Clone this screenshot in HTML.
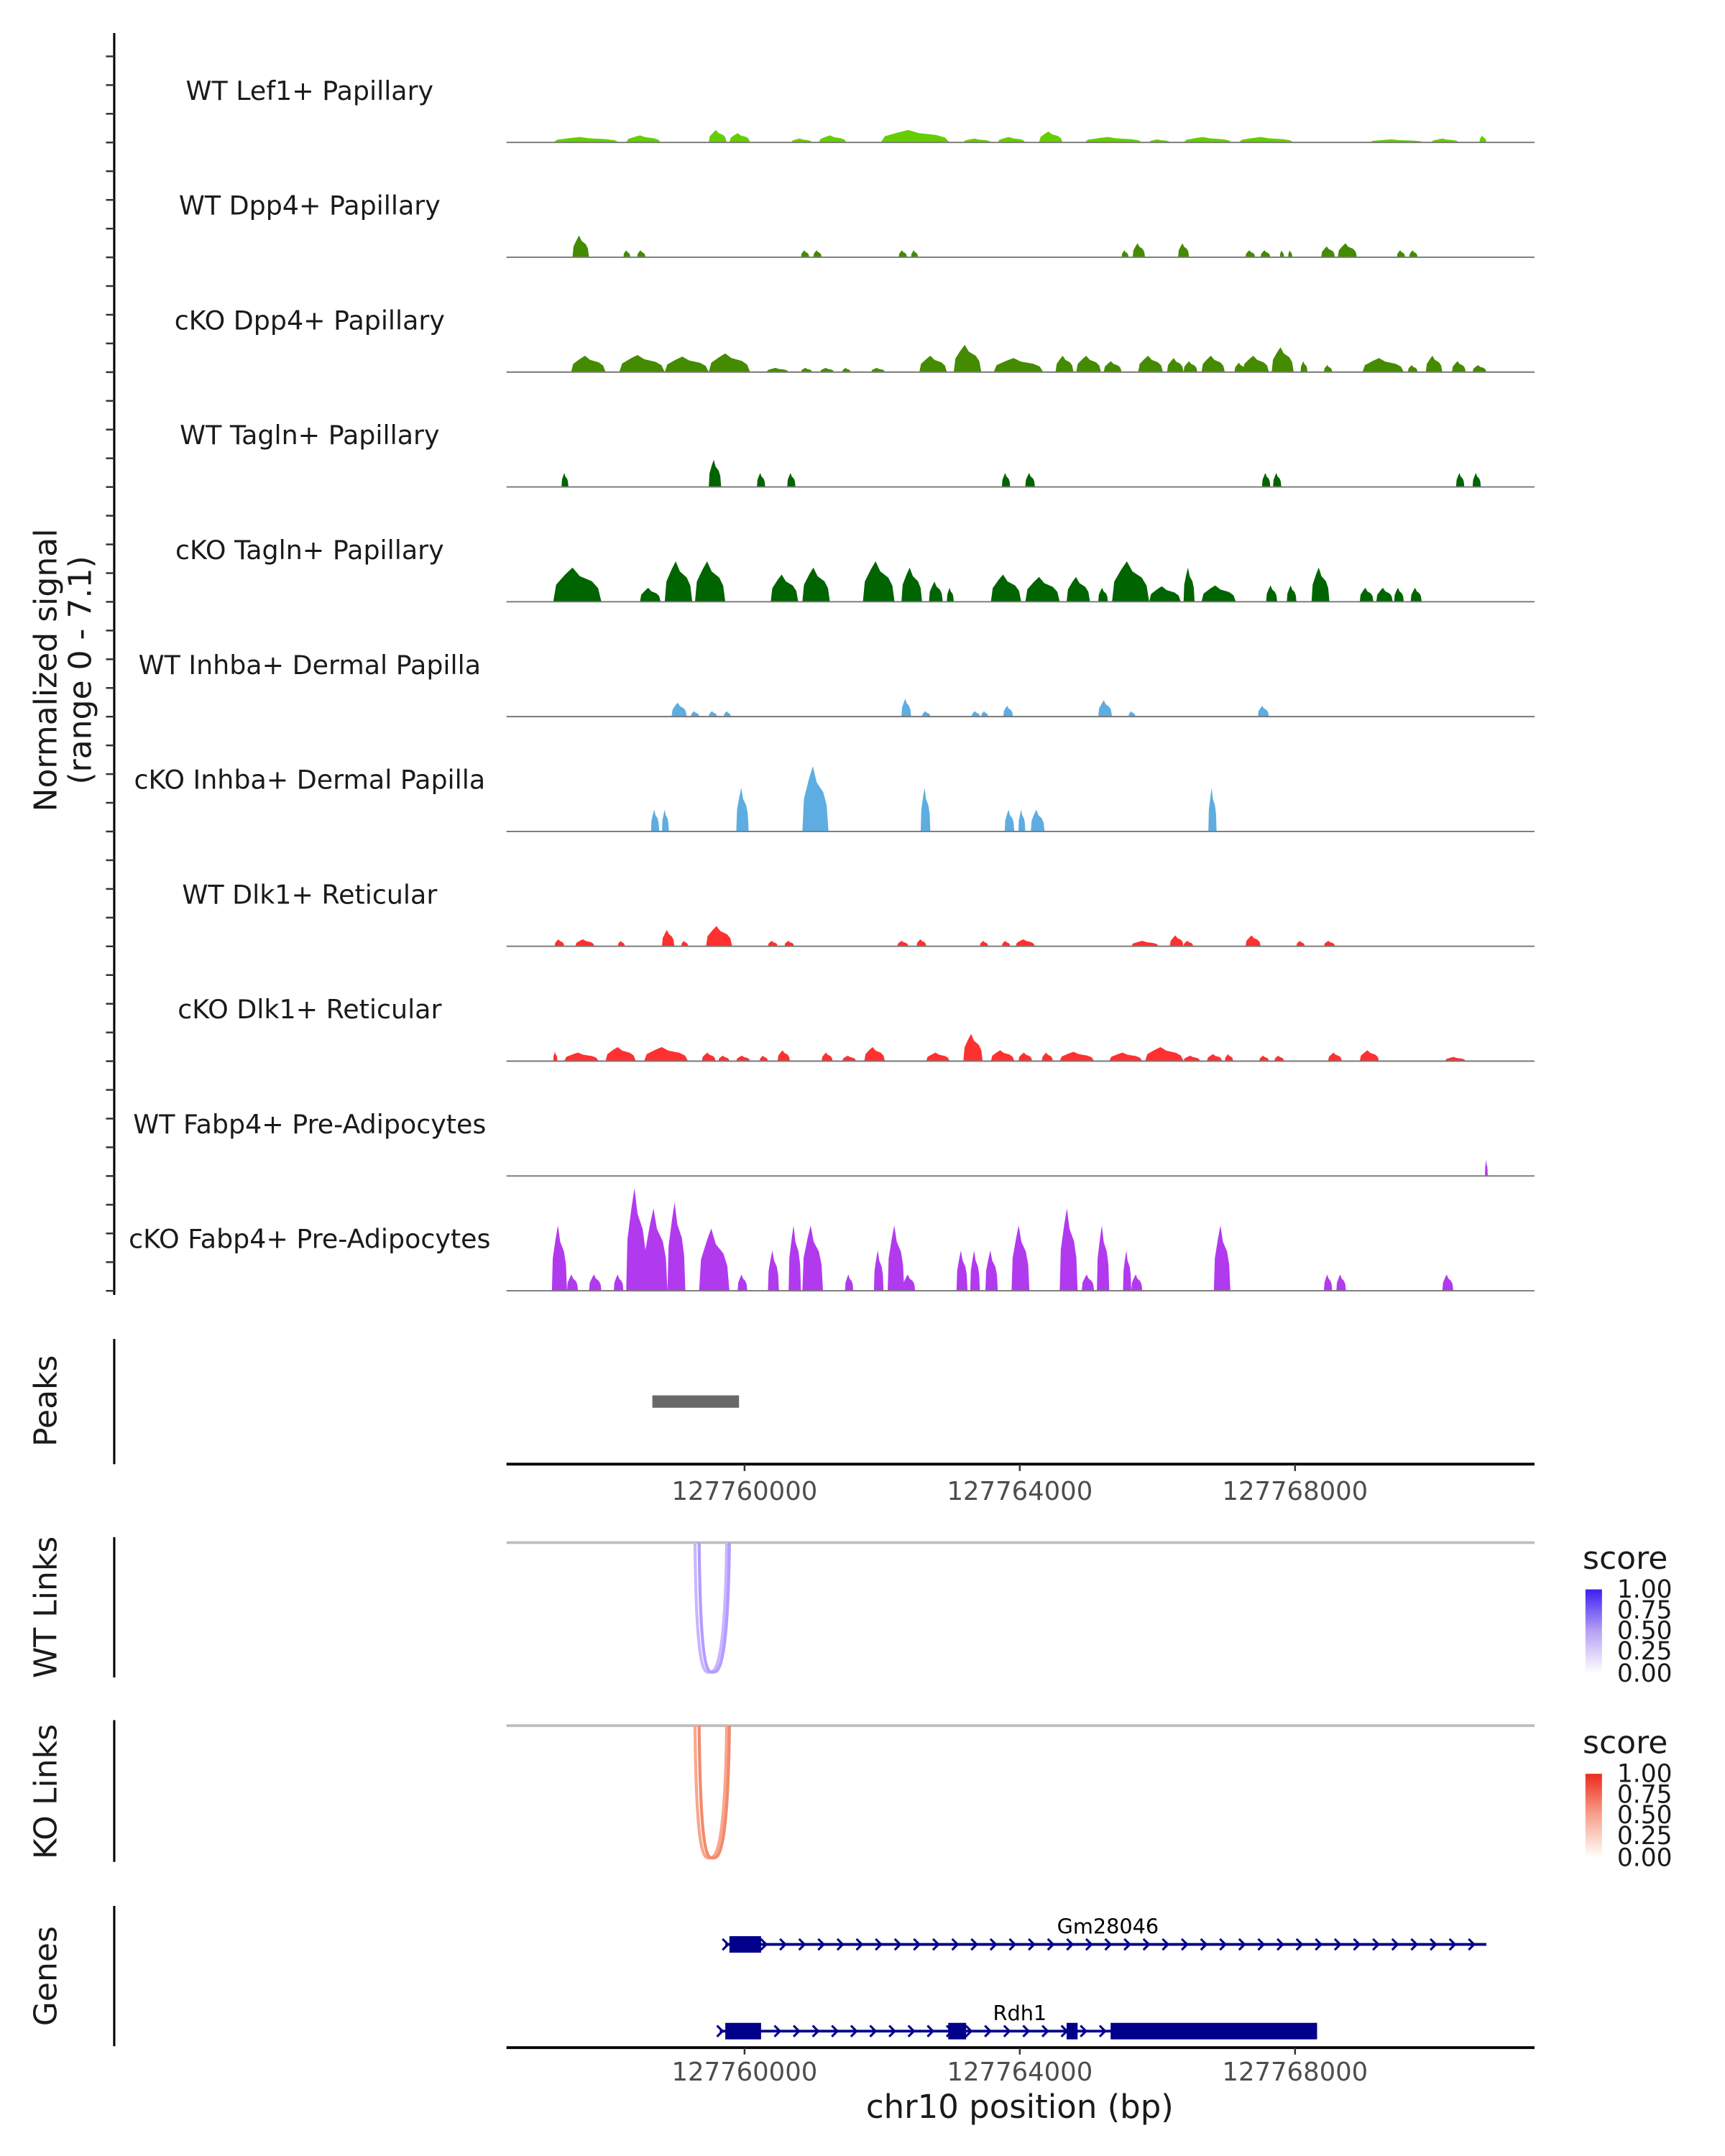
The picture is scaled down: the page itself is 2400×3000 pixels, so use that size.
<!DOCTYPE html>
<html><head><meta charset="utf-8">
<style>
html,body{margin:0;padding:0;background:#fff;}
svg{display:block;font-family:"DejaVu Sans","Liberation Sans",sans-serif;}
</style></head>
<body>
<svg id="chart" width="2400" height="3000" viewBox="0 0 1253.4 1566.75" xmlns="http://www.w3.org/2000/svg">
<g id="static">
  <text transform="translate(41,487) rotate(-90)" text-anchor="middle" font-size="23" fill="#1a1a1a">Normalized signal</text>
  <text transform="translate(66,487) rotate(-90)" text-anchor="middle" font-size="23" fill="#1a1a1a">(range 0 - 7.1)</text>
  <line x1="83" y1="24" x2="83" y2="941" stroke="#000" stroke-width="1.6"/>
  <text transform="translate(41,1018) rotate(-90)" text-anchor="middle" font-size="23" fill="#1a1a1a">Peaks</text>
  <line x1="83" y1="973" x2="83" y2="1064" stroke="#000" stroke-width="1.6"/>
  <line x1="368" y1="1064" x2="1115" y2="1064" stroke="#000" stroke-width="2"/>
  <text transform="translate(41,1168) rotate(-90)" text-anchor="middle" font-size="23" fill="#1a1a1a">WT Links</text>
  <line x1="83" y1="1117" x2="83" y2="1219" stroke="#000" stroke-width="1.6"/>
  <line x1="368" y1="1121" x2="1115" y2="1121" stroke="#bebebe" stroke-width="2"/>
  <text transform="translate(41,1302) rotate(-90)" text-anchor="middle" font-size="23" fill="#1a1a1a">KO Links</text>
  <line x1="83" y1="1250" x2="83" y2="1353" stroke="#000" stroke-width="1.6"/>
  <line x1="368" y1="1254" x2="1115" y2="1254" stroke="#bebebe" stroke-width="2"/>
  <text transform="translate(41,1436) rotate(-90)" text-anchor="middle" font-size="23" fill="#1a1a1a">Genes</text>
  <line x1="83" y1="1385" x2="83" y2="1487" stroke="#000" stroke-width="1.6"/>
  <line x1="368" y1="1488" x2="1115" y2="1488" stroke="#000" stroke-width="2"/>
  <text x="741" y="1539" text-anchor="middle" font-size="23.5" fill="#1a1a1a">chr10 position (bp)</text>
  <defs>
    <linearGradient id="gBlue" x1="0" y1="1" x2="0" y2="0"><stop offset="0" stop-color="#ffffff"/><stop offset="0.5" stop-color="#b7a2f5"/><stop offset="1" stop-color="#3a1ff0"/></linearGradient>
    <linearGradient id="gRed" x1="0" y1="1" x2="0" y2="0"><stop offset="0" stop-color="#ffffff"/><stop offset="0.5" stop-color="#f6a48e"/><stop offset="1" stop-color="#ee2a1c"/></linearGradient>
  </defs>
  <g>
    <text x="1150" y="1140" font-size="23" fill="#1a1a1a">score</text>
    <rect x="1152" y="1155" width="12" height="61" fill="url(#gBlue)"/>
    <g font-size="18" fill="#1a1a1a">
      <text x="1175" y="1161">1.00</text><text x="1175" y="1176">0.75</text><text x="1175" y="1191">0.50</text><text x="1175" y="1206">0.25</text><text x="1175" y="1222">0.00</text>
    </g>
  </g>
  <g>
    <text x="1150" y="1274" font-size="23" fill="#1a1a1a">score</text>
    <rect x="1152" y="1289" width="12" height="61" fill="url(#gRed)"/>
    <g font-size="18" fill="#1a1a1a">
      <text x="1175" y="1295">1.00</text><text x="1175" y="1310">0.75</text><text x="1175" y="1325">0.50</text><text x="1175" y="1340">0.25</text><text x="1175" y="1356">0.00</text>
    </g>
  </g>
</g>
<g id="dyn"></g>
</svg>
<script>
// ---- data (positions in kb from regionStartBp; heights in normalized signal) ----
const regionStartBp = 127756540;
const regionEndBp = 127771480;
const trackNames = ["WT Lef1+ Papillary","WT Dpp4+ Papillary","cKO Dpp4+ Papillary","WT Tagln+ Papillary","cKO Tagln+ Papillary","WT Inhba+ Dermal Papilla","cKO Inhba+ Dermal Papilla","WT Dlk1+ Reticular","cKO Dlk1+ Reticular","WT Fabp4+ Pre-Adipocytes","cKO Fabp4+ Pre-Adipocytes"];
const trackColors = ["#66cd00","#458b00","#458b00","#006400","#006400","#5dade2","#5dade2","#ff3030","#ff3030","#b23aee","#b23aee"];
const lef1WT = [[.68,1.64,.35],[1.74,2.24,.45],[2.94,3.2,.8],[3.24,3.54,.6],[4.14,4.44,.25],[4.54,4.94,.45],[5.44,6.44,.8],[6.64,7.04,.25],[7.14,7.54,.35],[7.74,8.08,.7],[8.4,9.24,.35],[9.34,9.64,.2],[9.84,10.54,.35],[10.64,11.44,.35],[12.54,13.34,.2],[13.44,13.84,.25],[14.14,14.24,.45]];
const dpp4WT = [[.96,1.2,1.4],[1.7,1.8,.45],[1.9,2.02,.45],[4.28,4.4,.45],[4.46,4.58,.45],[5.7,5.82,.45],[5.88,5.98,.45],[8.94,9.04,.45],[9.1,9.28,.9],[9.76,9.92,.9],[10.74,10.88,.45],[10.96,11.1,.45],[11.24,11.3,.45],[11.36,11.42,.45],[11.84,12.04,.7],[12.08,12.36,.9],[12.94,13.06,.45],[13.12,13.24,.45]];
const dpp4KO = [[.94,1.44,1.05],[1.64,2.3,1.1],[2.3,2.94,1.0],[2.94,3.54,1.2],[3.78,4.1,.27],[4.28,4.44,.27],[4.56,4.76,.27],[4.88,5.0,.27],[5.3,5.5,.27],[6.0,6.4,1.05],[6.5,6.9,1.75],[7.08,7.8,.9],[7.98,8.24,1.05],[8.28,8.64,1.05],[8.68,8.94,.7],[9.18,9.54,1.05],[9.6,9.84,.9],[9.84,10.04,.7],[10.1,10.44,1.05],[10.58,10.74,.6],[10.7,11.08,1.05],[11.12,11.44,1.6],[11.54,11.64,.7],[11.88,12.0,.45],[12.44,13.04,.9],[13.1,13.24,.45],[13.36,13.6,1.05],[13.74,13.94,.7],[14.04,14.24,.45]];
const taglnWT = [[.8,.9,.9],[2.94,3.12,1.75],[3.64,3.76,.9],[4.08,4.2,.9],[7.2,7.32,.9],[7.54,7.68,.9],[10.98,11.1,.9],[11.14,11.26,.9],[13.8,13.92,.9],[14.04,14.16,.9]];
const taglnKO = [[.68,1.38,2.2],[1.94,2.24,.9],[2.3,2.7,2.6],[2.74,3.18,2.6],[3.84,4.24,1.75],[4.3,4.7,2.2],[5.18,5.64,2.6],[5.74,6.04,2.2],[6.14,6.34,1.3],[6.4,6.5,.9],[7.04,7.48,1.75],[7.54,8.04,1.6],[8.14,8.48,1.6],[8.6,8.74,.9],[8.8,9.34,2.6],[9.34,9.8,1.0],[9.84,10.0,2.2],[10.1,10.6,1.05],[11.04,11.2,1.05],[11.34,11.48,1.05],[11.7,11.96,2.2],[12.4,12.6,.9],[12.64,12.88,.9],[12.9,13.04,.9],[13.14,13.3,.9]];
const inhbaWT = [[2.4,2.62,.9],[2.68,2.8,.35],[2.94,3.06,.35],[3.16,3.26,.35],[5.74,5.88,1.15],[6.04,6.16,.35],[6.76,6.88,.35],[6.9,7.0,.35],[7.22,7.36,.7],[8.6,8.8,1.05],[9.04,9.14,.35],[10.92,11.08,.7]];
const inhbaKO = [[2.1,2.22,1.4],[2.26,2.36,1.4],[3.34,3.52,2.8],[4.3,4.68,4.2],[6.02,6.16,2.8],[7.24,7.38,1.4],[7.44,7.54,1.4],[7.62,7.82,1.4],[10.2,10.32,2.8]];
const dlk1WT = [[.7,.84,.45],[1.0,1.28,.45],[1.62,1.72,.35],[2.26,2.44,1.05],[2.54,2.64,.35],[2.9,3.28,1.3],[3.8,3.94,.35],[4.04,4.18,.35],[5.68,5.84,.35],[5.96,6.1,.45],[6.88,7.0,.35],[7.2,7.32,.35],[7.4,7.68,.45],[9.08,9.48,.35],[9.64,9.84,.7],[9.84,9.98,.35],[10.74,10.96,.7],[11.48,11.6,.35],[11.88,12.04,.35]];
const dlk1KO = [[.68,.74,.6],[.84,1.34,.55],[1.44,1.88,.9],[2.0,2.64,.9],[2.84,3.04,.55],[3.08,3.24,.35],[3.34,3.54,.35],[3.68,3.8,.35],[3.94,4.12,.7],[4.58,4.74,.55],[4.88,5.08,.35],[5.2,5.5,.9],[6.1,6.44,.55],[6.64,6.92,1.75],[7.04,7.38,.7],[7.44,7.64,.55],[7.78,7.94,.55],[8.04,8.54,.6],[8.76,9.24,.55],[9.28,9.84,.9],[9.84,10.08,.35],[10.18,10.4,.45],[10.44,10.56,.45],[10.94,11.08,.35],[11.16,11.3,.35],[11.94,12.14,.55],[12.4,12.68,.7],[13.64,13.94,.27]];
const fabp4WT = [[14.22,14.26,1.05]];
const fabp4KO = [[.66,.88,4.2],[.88,1.04,1.05],[1.2,1.38,1.05],[1.56,1.7,1.05],[1.74,2.04,6.6],[2.0,2.34,5.3],[2.34,2.6,5.7],[2.8,3.24,4.0],[3.36,3.5,1.05],[3.8,3.96,2.6],[4.1,4.28,4.2],[4.3,4.6,4.2],[4.92,5.04,1.05],[5.34,5.48,2.6],[5.54,5.78,4.2],[5.76,5.94,1.05],[6.54,6.7,2.6],[6.74,6.88,2.6],[6.96,7.14,2.6],[7.34,7.6,4.2],[8.04,8.3,5.3],[8.36,8.54,1.05],[8.58,8.76,4.2],[8.96,9.08,2.6],[9.08,9.24,1.05],[10.28,10.52,4.2],[11.88,12.0,1.05],[12.06,12.2,1.05],[13.6,13.76,1.05]];
const trackData = [lef1WT,dpp4WT,dpp4KO,taglnWT,taglnKO,inhbaWT,inhbaKO,dlk1WT,dlk1KO,fabp4WT,fabp4KO];
const peakRegions = [[2.12,3.38]];
const xTicksBp = [127760000,127764000,127768000];
const xTickLabels = ["127760000","127764000","127768000"];
const wtLinks = [[2.74,3.2,0.35],[2.8,3.24,0.5]];
const koLinks = [[2.74,3.2,0.5],[2.8,3.24,0.6]];
const geneNames = ["Gm28046","Rdh1"];
const geneSpans = [[3.18,14.24],[3.1,11.78]];
const geneExons = [[[3.24,3.7]],[[3.18,3.7],[6.42,6.68],[8.14,8.3],[8.78,11.78]]];
const geneLabelKb = [8.74,7.46];

// ---- scales ----
const X0 = 368, X1 = 1115;
const spanKb = (regionEndBp - regionStartBp)/1000;
function x(kb){ return X0 + kb/spanKb*(X1-X0); }
function xBp(bp){ return x((bp-regionStartBp)/1000); }
const firstBase = 103.5, trackStep = 83.45, yPerUnit = 11.3;
function baseY(i){ return firstBase + i*trackStep; }
function yv(i,v){ return baseY(i) - v*yPerUnit; }

const NS = "http://www.w3.org/2000/svg";
const dyn = document.getElementById("dyn");
function mk(tag, attrs, parent){ const e=document.createElementNS(NS,tag); for(const k in attrs) e.setAttribute(k,attrs[k]); (parent||dyn).appendChild(e); return e; }

for(let k=0;k<=44;k++){
  const ty = 20.1 + k*trackStep/4;
  if(ty<36) continue;
  const t = mk("line",{x1:77,x2:83,y1:ty,y2:ty,stroke:"#333","stroke-width":1.3});
  
  
}

trackNames.forEach((name,i)=>{
  const g = mk("g",{});
  
  
  const lbl = mk("text",{x:225,y:baseY(i)-31,"text-anchor":"middle","font-size":19,fill:"#1a1a1a"},g);
  lbl.textContent = name;
  
  
  trackData[i].forEach(p=>{
    const s=x(p[0]), e=x(p[1]), w=e-s, b=baseY(i), h=p[2];
    const pts=[[s,b],[s+w*0.06,yv(i,h*0.5)],[s+w*0.25,yv(i,h*0.8)],[s+w*0.4,yv(i,h)],[s+w*0.55,yv(i,h*0.75)],[s+w*0.8,yv(i,h*0.6)],[s+w*0.93,yv(i,h*0.4)],[e,b]];
    const pk = mk("polygon",{points:pts.map(q=>q[0].toFixed(2)+","+q[1].toFixed(2)).join(" "),fill:trackColors[i]},g);
    
    
  });
  const bl = mk("line",{x1:X0,x2:X1,y1:baseY(i),y2:baseY(i),stroke:"#777","stroke-width":1},g);
  
  
});

peakRegions.forEach(p=>{
  const r = mk("rect",{x:x(p[0]),y:1014,width:x(p[1])-x(p[0]),height:9,fill:"#696969"});
  
  
});

[[1064,1090],[1488,1512]].forEach(a=>{
  xTicksBp.forEach((bp,j)=>{
    const t = mk("line",{x1:xBp(bp),x2:xBp(bp),y1:a[0],y2:a[0]+5,stroke:"#333","stroke-width":1.3});
    
    
    const l = mk("text",{x:xBp(bp),y:a[1],"text-anchor":"middle","font-size":18.5,fill:"#4d4d4d"});
    l.textContent = xTickLabels[j];
    
    
  });
});

function drawLinks(arr, top, depth, cols, name){
  arr.forEach((lk,j)=>{
    const a=x(lk[0]), b=x(lk[1]), bot=top+depth, m=(a+b)/2;
    const d=`M${a},${top} C${a+1},${bot+8} ${m-4},${bot} ${m},${bot} S${b-1},${bot-10} ${b},${top}`;
    const p = mk("path",{d:d,fill:"none",stroke:cols[j%cols.length],"stroke-width":2.2});
    
    
  });
}
drawLinks(wtLinks,1121,94,["#c9b6ff","#b39cff"],"wt-link-arc");
drawLinks(koLinks,1254,96,["#f9a68c","#f28a6c"],"ko-link-arc");

const geneY=[1413,1476];
geneNames.forEach((gname,i)=>{
  const g = mk("g",{});
  
  
  const y=geneY[i];
  mk("line",{x1:x(geneSpans[i][0]),x2:x(geneSpans[i][1]),y1:y,y2:y,stroke:"#00008b","stroke-width":2},g);
  for(let xx=x(geneSpans[i][0])+1; xx<=x(geneSpans[i][1]); xx+=13.9){
    mk("path",{d:`M${xx-3},${y-4} L${xx+1},${y} L${xx-3},${y+4}`,fill:"none",stroke:"#00008b","stroke-width":1.6},g);
  }
  geneExons[i].forEach(ex=>{
    mk("rect",{x:x(ex[0]),y:y-6,width:x(ex[1])-x(ex[0]),height:12,fill:"#00008b"},g);
  });
  const t = mk("text",{x:x(geneLabelKb[i]),y:y-8,"text-anchor":"middle","font-size":15,fill:"#000"},g);
  t.textContent = gname;
});
</script>
</body></html>
